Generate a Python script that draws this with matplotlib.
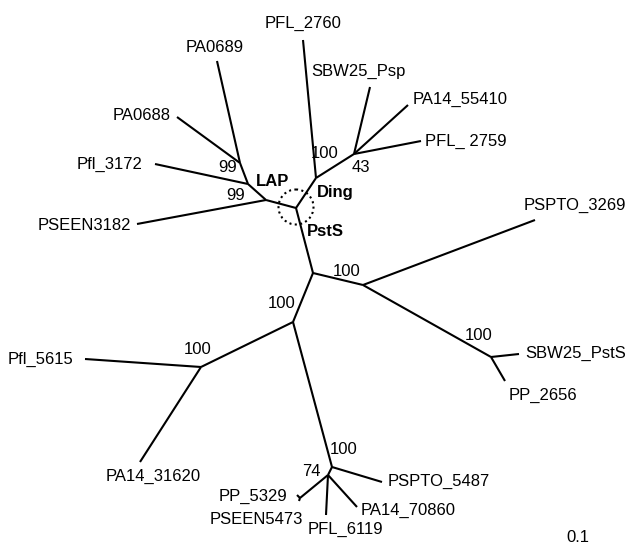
import matplotlib
matplotlib.use("Agg")
import matplotlib.pyplot as plt
from matplotlib.patches import Circle

plt.rcParams['font.family'] = ['Liberation Sans', 'DejaVu Sans']

# ---- tree data (node layout) ----
node_names = ["root", "lapC", "lapB", "lapA", "ding", "d43", "pst", "pstR", "sbwN",
              "low", "leftN", "botN", "n74", "n74b",
              "PA0689", "PA0688", "Pfl_3172", "PSEEN3182", "PFL_2760", "SBW25_Psp",
              "PA14_55410", "PFL_ 2759", "PSPTO_3269", "SBW25_PstS", "PP_2656",
              "Pfl_5615", "PA14_31620", "PSPTO_5487", "PA14_70860", "PFL_6119",
              "PP_5329", "PSEEN5473"]
node_x = [296, 266, 248, 240, 316, 354, 313, 363, 491,
          293, 201, 332, 328, 300,
          217, 177, 155, 137, 303, 370,
          408, 421, 535, 519, 505,
          85, 140, 382, 357, 326,
          297, 299]
node_y = [208, 200, 184, 163, 178, 154, 273, 285, 357,
          322, 367, 467, 475, 498,
          61, 117, 164, 224, 40, 87,
          105, 141, 220, 354, 381,
          359, 462, 482, 507, 515,
          495, 501]
edges = [("root", "lapC"), ("lapC", "lapB"), ("lapB", "lapA"),
         ("lapA", "PA0689"), ("lapA", "PA0688"), ("lapB", "Pfl_3172"),
         ("lapC", "PSEEN3182"), ("root", "ding"), ("ding", "PFL_2760"),
         ("ding", "d43"), ("d43", "SBW25_Psp"), ("d43", "PA14_55410"),
         ("d43", "PFL_ 2759"), ("root", "pst"), ("pst", "pstR"),
         ("pstR", "PSPTO_3269"), ("pstR", "sbwN"), ("sbwN", "SBW25_PstS"),
         ("sbwN", "PP_2656"), ("pst", "low"), ("low", "leftN"),
         ("leftN", "Pfl_5615"), ("leftN", "PA14_31620"), ("low", "botN"),
         ("botN", "PSPTO_5487"), ("botN", "n74"), ("n74", "PA14_70860"),
         ("n74", "PFL_6119"), ("n74", "n74b"), ("n74b", "PP_5329"),
         ("n74b", "PSEEN5473")]

tip_labels = ["PA0689", "PA0688", "Pfl_3172", "PSEEN3182", "PFL_2760", "SBW25_Psp",
              "PA14_55410", "PFL_ 2759", "PSPTO_3269", "SBW25_PstS", "PP_2656",
              "Pfl_5615", "PA14_31620", "PSPTO_5487", "PA14_70860", "PFL_6119",
              "PP_5329", "PSEEN5473"]
support_values = ["99", "99", "100", "43", "100", "100", "100", "100", "100", "74"]
group_names = ["LAP", "Ding", "PstS"]
scale_text = "0.1"

# ---- presentation: label anchors (x, y, ha) ----
tip_pos = {
    "PA0689": (215, 47, "center"), "PA0688": (171, 116, "right"),
    "Pfl_3172": (143, 164, "right"), "PSEEN3182": (131, 225, "right"),
    "PFL_2760": (303, 23, "center"), "SBW25_Psp": (358, 71, "center"),
    "PA14_55410": (413, 99, "left"), "PFL_ 2759": (425, 141, "left"),
    "PSPTO_3269": (524, 205, "left"), "SBW25_PstS": (525, 353, "left"),
    "PP_2656": (509, 395, "left"), "Pfl_5615": (73, 359, "right"),
    "PA14_31620": (153, 476, "center"), "PSPTO_5487": (388, 481, "left"),
    "PA14_70860": (361, 510, "left"), "PFL_6119": (308, 529, "left"),
    "PP_5329": (287, 496, "right"), "PSEEN5473": (303, 519, "right"),
}
support_pos = [(228, 167), (236, 196), (325, 153), (361, 167), (347, 271),
               (479, 336), (282, 303), (198, 350), (344, 450), (311, 471)]
group_pos = [(256, 181), (317, 192), (307, 232)]

fig = plt.figure(figsize=(6.25, 5.48), dpi=100)
ax = fig.add_axes([0, 0, 1, 1])
ax.set_xlim(0, 625)
ax.set_ylim(548, 0)
ax.axis("off")

idx = {n: i for i, n in enumerate(node_names)}
for a, b in edges:
    ia, ib = idx[a], idx[b]
    ax.plot([node_x[ia], node_x[ib]], [node_y[ia], node_y[ib]],
            color="black", lw=1.5, solid_capstyle="butt")

fs = 12
for name in tip_labels:
    x, y, ha = tip_pos[name]
    ax.text(x, y, name, ha=ha, va="center", fontsize=fs)

for s, (x, y) in zip(support_values, support_pos):
    ax.text(x, y, s, ha="center", va="center", fontsize=fs)

for g, (x, y) in zip(group_names, group_pos):
    ax.text(x, y, g, ha="left", va="center", fontsize=fs, fontweight="bold")

ax.add_patch(Circle((296, 207), 17.5, fill=False, ls=(0, (1, 1.6)), lw=1.5,
                    color="black"))

ax.text(578, 537, scale_text, ha="center", va="center", fontsize=fs)

fig.savefig("out.png", dpi=100)
